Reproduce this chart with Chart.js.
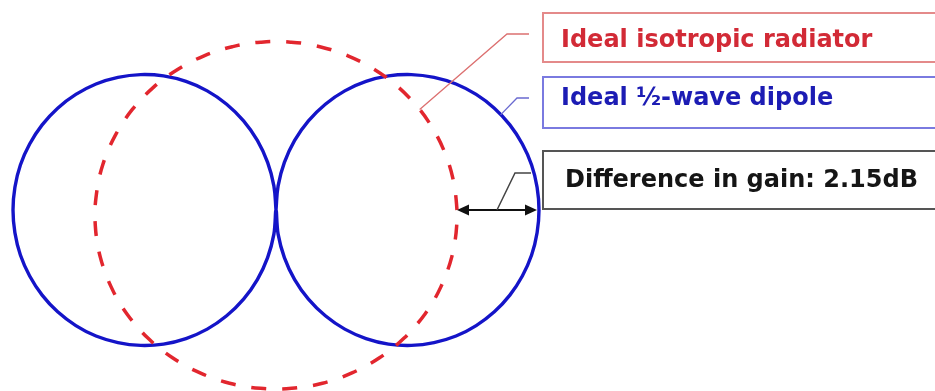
<!DOCTYPE html>
<html><head><meta charset="utf-8">
<script src="https://cdn.jsdelivr.net/npm/chart.js@4.4.1/dist/chart.umd.min.js"></script>
<style>
html,body{margin:0;padding:0;background:#fff;}
#wrap{position:relative;width:935px;height:391px;overflow:hidden;background:#fff;}
#c{position:absolute;left:0;top:0;}
.box{position:absolute;left:542px;width:440px;box-sizing:border-box;border:2px solid;}
.lbl{position:absolute;font-family:"DejaVu Sans";font-weight:bold;font-size:24px;line-height:28px;white-space:nowrap;}
</style></head>
<body>
<div id="wrap">
<canvas id="c" width="935" height="391"></canvas>
<div class="box" style="top:12px;height:51px;border-color:#e48a8a;"></div>
<div class="box" style="top:76px;height:53px;border-color:#7a7ae0;"></div>
<div class="box" style="top:150px;height:60px;border-color:#555;"></div>
<div class="lbl" id="t1" style="left:561px;top:25px;color:#d22a36;">Ideal isotropic radiator</div>
<div class="lbl" id="t2" style="left:561px;top:83px;color:#1c1cb4;">Ideal ½-wave dipole</div>
<div class="lbl" id="t3" style="left:565px;top:165px;color:#151515;">Difference in gain: 2.15dB</div>
</div>
<script>
// Polar angle of each sample, degrees (0 = right, counter-clockwise)
const angleDeg = [0,5,10,15,20,25,30,35,40,45,50,55,60,65,70,75,80,85,
  90,95,100,105,110,115,120,125,130,135,140,145,150,155,160,165,170,175,
  180,185,190,195,200,205,210,215,220,225,230,235,240,245,250,255,260,265,
  270,275,280,285,290,295,300,305,310,315,320,325,330,335,340,345,350,355];

// Ideal 1/2-wave dipole pattern (relative to isotropic = 1)
const dipoleGain = [1.453,1.448,1.434,1.409,1.375,1.331,1.277,1.214,1.140,1.058,0.967,0.867,0.760,0.645,0.524,0.398,0.267,0.134,
  0.000,0.134,0.267,0.398,0.524,0.645,0.760,0.867,0.967,1.058,1.140,1.214,1.277,1.331,1.375,1.409,1.434,1.448,
  1.453,1.448,1.434,1.409,1.375,1.331,1.277,1.214,1.140,1.058,0.967,0.867,0.760,0.645,0.524,0.398,0.267,0.134,
  0.000,0.134,0.267,0.398,0.524,0.645,0.760,0.867,0.967,1.058,1.140,1.214,1.277,1.331,1.375,1.409,1.434,1.448];

// Ideal isotropic radiator pattern
const isotropicGain = [1.000,0.996,0.993,0.989,0.984,0.979,0.974,0.969,0.963,0.958,0.953,0.948,0.944,0.940,0.937,0.934,0.933,0.931,
  0.931,0.931,0.933,0.934,0.937,0.940,0.944,0.948,0.953,0.958,0.963,0.969,0.974,0.979,0.984,0.989,0.993,0.996,
  1.000,1.002,1.004,1.005,1.005,1.005,1.005,1.004,1.002,1.001,0.999,0.997,0.995,0.993,0.992,0.991,0.990,0.989,
  0.989,0.989,0.990,0.991,0.992,0.993,0.995,0.997,0.999,1.001,1.002,1.004,1.005,1.005,1.005,1.005,1.004,1.002];

const seriesNames = ['Ideal isotropic radiator','Ideal ½-wave dipole'];

// closed loop of polar samples, starting at the given angle
function toXY(gains, startDeg){
  const n = angleDeg.length, s = angleDeg.indexOf(startDeg), pts = [];
  for (let k = 0; k <= n; k++){
    const i = (s + k) % n, r = angleDeg[i]*Math.PI/180;
    pts.push({x: gains[i]*Math.cos(r), y: gains[i]*Math.sin(r), idx: i});
  }
  return pts;
}

const calloutPlugin = {
  id:'callouts',
  afterDatasetsDraw(chart){
    const ctx = chart.ctx;
    const sx = chart.scales.x, sy = chart.scales.y;
    const pt = (gains, i) => {
      const r = angleDeg[i]*Math.PI/180;
      return {x: sx.getPixelForValue(gains[i]*Math.cos(r)), y: sy.getPixelForValue(gains[i]*Math.sin(r))};
    };
    ctx.save();
    // difference arrow between the two patterns at 0 deg
    const a1 = pt(isotropicGain, 0), a2 = pt(dipoleGain, 0);
    const y0 = a1.y;
    const x1 = a1.x, x2 = a2.x - 2;
    ctx.strokeStyle = '#111'; ctx.fillStyle = '#111'; ctx.lineWidth = 2;
    ctx.beginPath(); ctx.moveTo(x1+8, y0); ctx.lineTo(x2-8, y0); ctx.stroke();
    ctx.beginPath(); ctx.moveTo(x1, y0); ctx.lineTo(x1+12, y0-5.5); ctx.lineTo(x1+12, y0+5.5); ctx.closePath(); ctx.fill();
    ctx.beginPath(); ctx.moveTo(x2, y0); ctx.lineTo(x2-12, y0-5.5); ctx.lineTo(x2-12, y0+5.5); ctx.closePath(); ctx.fill();
    // black leader
    const mx = (x1 + x2)/2;
    ctx.strokeStyle = '#444'; ctx.lineWidth = 1.5;
    ctx.beginPath(); ctx.moveTo(mx, y0); ctx.lineTo(515, 173); ctx.lineTo(531, 173); ctx.stroke();
    // red leader
    const ri = pt(isotropicGain, angleDeg.indexOf(35));
    ctx.strokeStyle = '#dc7070'; ctx.lineWidth = 1.3;
    ctx.beginPath(); ctx.moveTo(ri.x, ri.y); ctx.lineTo(507, 34); ctx.lineTo(529, 34); ctx.stroke();
    // blue leader
    const b0 = pt(dipoleGain, angleDeg.indexOf(20)), b1 = pt(dipoleGain, angleDeg.indexOf(25));
    const bx = b0.x + 0.6*(b1.x-b0.x), by = b0.y + 0.6*(b1.y-b0.y);
    ctx.strokeStyle = '#6a6ad0'; ctx.lineWidth = 1.3;
    ctx.beginPath(); ctx.moveTo(bx, by); ctx.lineTo(517, 98); ctx.lineTo(529, 98); ctx.stroke();
    ctx.restore();
  }
};

new Chart(document.getElementById('c'), {
  type: 'scatter',
  data: {
    datasets: [
      { label: seriesNames[0], data: toXY(isotropicGain, 0), showLine: true, fill: false,
        borderColor: '#e2262e', borderWidth: 3.5, borderDash: [15,16], pointRadius: 0, tension: 0.4, clip: false, order: 0 },
      { label: seriesNames[1], data: toXY(dipoleGain, 90), showLine: true, fill: false,
        borderColor: '#1414c8', borderWidth: 3.4, pointRadius: 0, tension: 0.4, clip: false, order: 1 }
    ]
  },
  options: {
    responsive: false,
    animation: false,
    events: [],
    layout: { padding: 0 },
    plugins: { legend: { display: false }, tooltip: { enabled: false } },
    scales: {
      x: { type: 'linear', display: false, min: -276/181, max: 659/181 },
      y: { type: 'linear', display: false, min: -181/181, max: 210/181 }
    }
  },
  plugins: [calloutPlugin]
});
</script>
</body></html>
